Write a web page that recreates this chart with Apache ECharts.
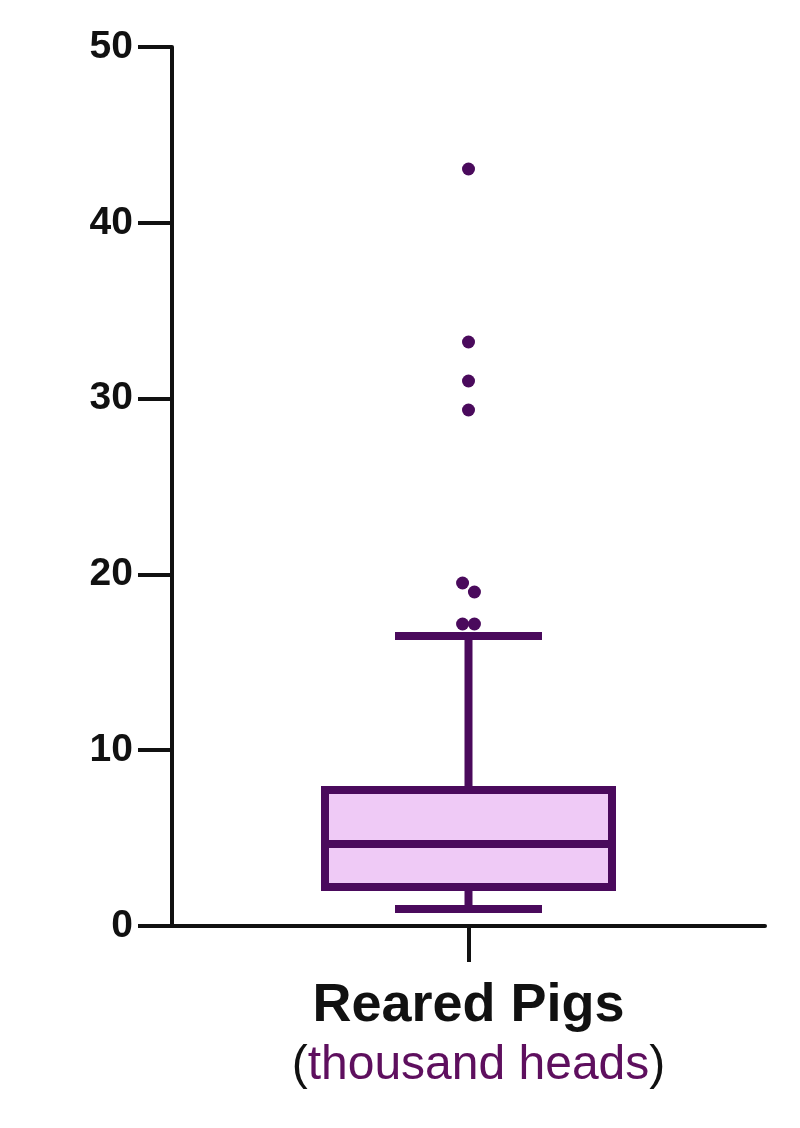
<!DOCTYPE html>
<html>
<head>
<meta charset="utf-8">
<script src="https://cdn.jsdelivr.net/npm/echarts@6/dist/echarts.min.js"></script>
<style>
  html, body { margin: 0; background: #fff; }
  #chart { width: 800px; height: 1128px; }
</style>
</head>
<body>
<div id="chart"></div>
<script>
// data
const categories = ['Reared Pigs']
// [lower whisker, Q1, median, Q3, upper whisker]
const boxStats = [0.97, 2.22, 4.66, 7.74, 16.5]
const outlierValues = [43.06, 33.22, 31.0, 29.35, 19.51, 19.0, 17.18, 17.18]
// small side offsets of the points (hidden value axis, -1..1)
const outlierOffsets = [0, 0, 0, 0, -0.02, 0.02, -0.02, 0.02]
const yTicks = [0, 10, 20, 30, 40, 50]

const dark = '#4a0a5c'
const fill = '#efcaf6'
const lineW = 8
const boxHalf = 143.5
const capHalf = 73.5

const chart = echarts.init(document.getElementById('chart'))

// box + whiskers drawn by hand so the caps can be shorter than the box
const renderBox = (params, api) => {
  const cat = api.value(0)
  const pt = (i) => api.coord([cat, api.value(i)])
  const x = pt(3)[0]
  const yLo = pt(1)[1], yQ1 = pt(2)[1], yMed = pt(3)[1], yQ3 = pt(4)[1], yHi = pt(5)[1]
  const st = { stroke: dark, lineWidth: lineW, fill: null }
  return {
    type: 'group',
    children: [
      { type: 'line', shape: { x1: x, y1: yQ3, x2: x, y2: yHi }, style: st },
      { type: 'line', shape: { x1: x, y1: yQ1, x2: x, y2: yLo }, style: st },
      { type: 'line', shape: { x1: x - capHalf, y1: yHi, x2: x + capHalf, y2: yHi }, style: st },
      { type: 'line', shape: { x1: x - capHalf, y1: yLo, x2: x + capHalf, y2: yLo }, style: st },
      {
        type: 'rect',
        shape: { x: x - boxHalf, y: yQ3, width: boxHalf * 2, height: yQ1 - yQ3 },
        style: { fill: fill, stroke: dark, lineWidth: lineW }
      },
      { type: 'line', shape: { x1: x - boxHalf, y1: yMed, x2: x + boxHalf, y2: yMed }, style: st }
    ]
  }
}

const option = {
  animation: false,
  backgroundColor: '#fff',
  grid: { left: 172, right: 35, top: 47, bottom: 202 },
  xAxis: [
    {
      type: 'category',
      data: categories,
      axisLine: { lineStyle: { color: '#111', width: 4 } },
      axisTick: { show: true, interval: 0, alignWithLabel: true, length: 36, lineStyle: { color: '#111', width: 4 } },
      axisLabel: {
        margin: 50,
        formatter: (v) => '{t|' + v + '}\n{g| }{p|(}{u|thousand heads}{p|)}',
        rich: {
          t: { fontFamily: 'Liberation Sans', fontWeight: 'bold', fontSize: 54, lineHeight: 60, color: '#111' },
          g: { fontSize: 48, width: 20, lineHeight: 60 },
          p: { fontFamily: 'Liberation Sans', fontSize: 48, lineHeight: 60, color: '#111' },
          u: { fontFamily: 'Liberation Sans', fontSize: 48, lineHeight: 60, color: '#5e0f5e' }
        }
      }
    },
    { type: 'value', min: -1, max: 1, show: false }
  ],
  yAxis: {
    type: 'value',
    min: yTicks[0],
    max: yTicks[yTicks.length - 1],
    interval: 10,
    axisLine: { show: true, onZero: false, lineStyle: { color: '#111', width: 4 } },
    axisTick: { show: true, length: 34, lineStyle: { color: '#111', width: 4 } },
    splitLine: { show: false },
    axisLabel: {
      margin: 39,
      fontFamily: 'Liberation Sans',
      fontWeight: 'bold',
      fontSize: 39,
      color: '#111'
    }
  },
  series: [
    {
      type: 'custom',
      xAxisIndex: 0,
      renderItem: renderBox,
      encode: { x: 0, y: [1, 2, 3, 4, 5] },
      data: [[0, ...boxStats]]
    },
    {
      type: 'scatter',
      xAxisIndex: 1,
      symbolSize: 13,
      itemStyle: { color: dark, opacity: 1 },
      data: outlierValues.map((v, i) => [outlierOffsets[i], v])
    }
  ]
}

chart.setOption(option)
</script>
</body>
</html>
